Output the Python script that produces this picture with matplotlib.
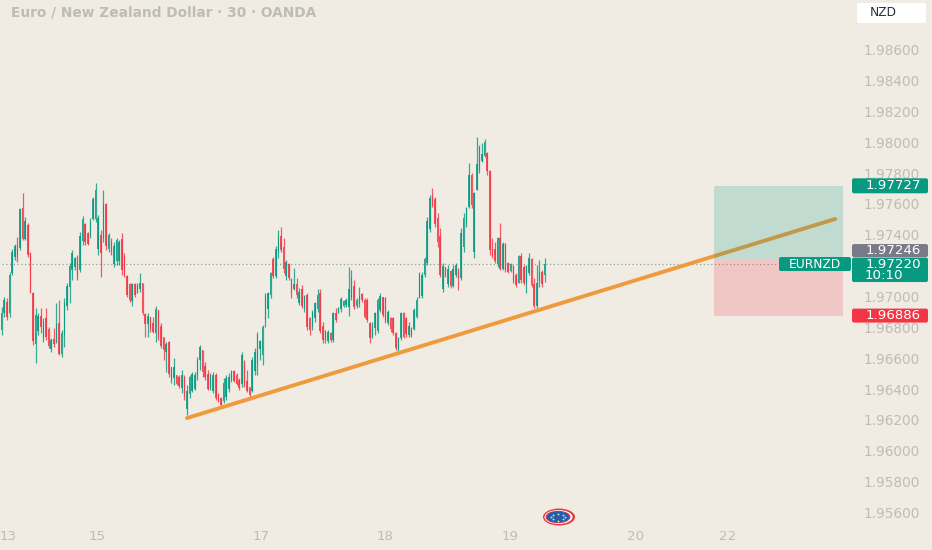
import numpy as np
import matplotlib
matplotlib.use("Agg")
import matplotlib.pyplot as plt
from matplotlib.patches import Ellipse, FancyBboxPatch

# prices are kept as points (0.00001) around 1.97000
base_price = 1.97

opens_pts = [
    -205, -95, -25, -95, 165, 265, 345, 325, 580, 385,
    470, 290, 35, -295, -215, -115, -260, -130, -200, -330,
    -265, -290, -165, -360, -240, -50, 70, 180, 200, 265,
    180, 370, 480, 420, 400, 510, 510, 320, 410, 380,
    610, 320, 370, 220, 240, 240, 385, 270, 145, 90,
    -20, 90, 35, 60, 95, -105, -170, -125, -160, -225,
    -80, -180, -255, -350, -285, -530, -520, -500, -510, -580,
    -510, -720, -620, -600, -590, -500, -400, -340, -440, -490,
    -580, -600, -500, -625, -650, -670, -640, -590, -530, -475,
    -500, -530, -560, -410, -540, -580, -600, -470, -430, -330,
    -370, -140, -70, 20, 250, 140, 300, 400, 330, 140,
    220, 120, 60, 90, -30, 60, -70, 20, -130, -190,
    -130, -70, 30, -180, -270, -280, -225, -270, -95, -95,
    -70, -50, -45, -60, 0, 80, -55, -40, 25, -10,
    -15, -160, -250, -195, -215, -75, 5, 0, -160, -130,
    -130, -225, -330, -260, -100, -130, -240, -195, -200, -120,
    0, 10, 150, 230, 450, 660, 640, 520, 400, 60,
    200, 90, 175, 80, 150, 185, 130, 330, 480, 590,
    800, 300, 700, 830, 890, 920, 940, 820, 320, 320,
    220, 390, 190, 350, 230, 175, 205, 150, 100, 275,
    200, 100, 160, 250, 90, -50, 110, 170, 150,
]
highs_pts = [
    -57, 8, -3, 170, 315, 350, 397, 581, 682, 527,
    483, 300, 41, -67, -100, -67, -132, -67, -186, -262,
    -197, -35, -13, -208, 3, 95, 224, 311, 267, 278,
    429, 531, 483, 429, 516, 656, 747, 537, 440, 699,
    613, 419, 386, 365, 386, 375, 419, 289, 149, 95,
    95, 95, 95, 159, 99, -100, -100, -121, -121, -52,
    -78, -165, -251, -283, -277, -445, -391, -499, -499, -467,
    -499, -564, -499, -478, -478, -381, -305, -337, -413, -467,
    -489, -478, -489, -618, -640, -521, -499, -489, -467, -467,
    -489, -521, -348, -402, -467, -575, -381, -327, -219, -273,
    -175, 30, 41, 170, 263, 336, 440, 463, 387, 247,
    225, 128, 193, 128, 63, 85, 20, 31, -121, -77,
    -23, 57, 57, -153, -207, -207, -218, -88, -67, -56,
    9, -13, -2, 199, 182, 117, -2, 74, 31, -2,
    -2, -153, -153, -88, -2, 31, 9, 9, -77, -121,
    -121, -218, -250, -88, -88, -121, -153, -185, -67, 9,
    171, 171, 268, 527, 668, 711, 657, 549, 452, 225,
    203, 214, 182, 214, 225, 193, 452, 549, 592, 873,
    808, 689, 1041, 992, 1003, 1029, 949, 830, 387, 365,
    398, 484, 365, 355, 236, 225, 214, 160, 279, 290,
    214, 214, 290, 257, 128, 214, 247, 182, 257,
]
lows_pts = [
    -240, -121, -143, -121, 149, 246, 235, 311, 375, 375,
    263, 30, -305, -424, -240, -229, -283, -273, -327, -348,
    -316, -294, -370, -381, -316, -78, -35, 116, 181, 116,
    170, 343, 343, 343, 386, 505, 494, 278, 138, 365,
    311, 300, 278, 203, 213, 213, 149, 138, 8, -24,
    -52, 8, 30, 41, -111, -251, -251, -219, -229, -283,
    -273, -327, -402, -478, -510, -553, -564, -564, -586, -618,
    -661, -759, -651, -607, -597, -532, -467, -510, -532, -597,
    -597, -618, -661, -672, -705, -683, -661, -607, -543, -543,
    -564, -597, -575, -575, -607, -661, -607, -499, -499, -402,
    -435, -186, -132, 1, 127, 127, 257, 301, 160, 117,
    117, -2, 52, -2, -45, -67, -88, -207, -240, -207,
    -153, -88, -229, -293, -293, -293, -283, -283, -153, -99,
    -88, -56, -56, -116, -13, -73, -67, -56, -23, -131,
    -153, -293, -261, -240, -229, -88, -121, -164, -175, -218,
    -240, -337, -341, -272, -261, -250, -255, -255, -207, -131,
    -2, -2, 139, 214, 430, 592, 463, 333, 139, 41,
    139, 74, 63, 74, 139, 52, 117, 301, 463, 581,
    581, 257, 700, 808, 884, 916, 797, 279, 257, 225,
    203, 182, 182, 171, 160, 171, 95, 74, 95, 95,
    85, 31, 149, 74, -67, -67, 74, 74, 106,
]
closes_pts = [
    -95, -15, -120, 150, 300, 340, 265, 575, 385, 500,
    280, 40, -280, -110, -115, -190, -150, -250, -310, -270,
    -300, -170, -360, -230, -30, 80, 210, 290, 260, 130,
    400, 510, 360, 350, 495, 640, 700, 520, 290, 610,
    340, 410, 300, 340, 375, 365, 180, 150, 20, -10,
    90, 20, 85, 100, -100, -170, -115, -200, -220, -70,
    -250, -310, -340, -295, -490, -450, -450, -560, -570, -500,
    -640, -600, -510, -490, -500, -400, -320, -480, -510, -590,
    -500, -500, -650, -670, -695, -550, -520, -510, -475, -535,
    -555, -580, -370, -565, -600, -630, -400, -350, -240, -280,
    -190, 20, 30, 160, 140, 320, 400, 310, 190, 230,
    130, 30, 90, 20, 40, -50, 10, -190, -210, -90,
    -30, 20, -215, -270, -215, -220, -275, -100, -145, -65,
    -5, -20, -10, 60, 130, -60, -15, 10, -15, -120,
    -145, -260, -180, -100, -15, 15, -110, -150, -90, -200,
    -230, -325, -260, -100, -250, -235, -180, -245, -80, -10,
    160, 150, 255, 500, 650, 600, 480, 360, 150, 210,
    145, 190, 75, 190, 215, 130, 420, 520, 580, 800,
    600, 680, 870, 980, 930, 1010, 820, 310, 270, 240,
    390, 190, 350, 180, 170, 220, 110, 85, 270, 115,
    100, 205, 260, 85, -50, 100, 170, 90, 220,
]

day_labels = ["13", "15", "17", "18", "19", "20", "22"]
day_bars = [2.4, 36.5, 99.4, 147, 195, 243, 278]

price_ticks = [1.986, 1.984, 1.982, 1.980, 1.978, 1.976, 1.974, 1.970, 1.968, 1.966, 1.964, 1.962, 1.960, 1.958, 1.956]

entry_price = 1.97246
target_price = 1.97727
stop_price = 1.96886
last_price = 1.97220
trend_bars = [71.0, 319.3]
trend_prices = [1.96222, 1.97512]
zone_bars = [272.9, 322.3]

BG = "#f0ece4"
GREEN = "#089981"
RED = "#f23645"
GREY = "#787b86"
TEXT = "#bdbcb6"

opens = base_price + np.array(opens_pts) * 1e-5
highs = base_price + np.array(highs_pts) * 1e-5
lows = base_price + np.array(lows_pts) * 1e-5
closes = base_price + np.array(closes_pts) * 1e-5
bars = np.arange(len(closes))
up = closes >= opens
colors = np.where(up, GREEN, RED)

fig = plt.figure(figsize=(9.32, 5.5), dpi=100, facecolor=BG)
ax = fig.add_axes([0, 0, 1, 1])
ax.set_facecolor(BG)
ax.set_xlim(-0.64, 356.4)
ymin, ymax = 1.95367, 1.98931
ax.set_ylim(ymin, ymax)
ax.axis("off")

# last price line
ax.plot([bars[0], 297], [last_price, last_price], color="#8fa39a", lw=0.9, ls=(0, (1, 2)), zorder=1)

# candles
ax.vlines(bars, lows, highs, colors=colors, lw=0.9, alpha=0.8, zorder=2)
ax.bar(bars, np.abs(closes - opens), bottom=np.minimum(opens, closes), width=0.6,
       color=colors, linewidth=0, alpha=0.85, zorder=3)

# trend line
ax.plot(trend_bars, trend_prices, color="#f09a3e", lw=2.8, solid_capstyle="round", zorder=4)

# long position box, over the line
ax.fill_between(zone_bars, entry_price, target_price, color=GREEN, alpha=0.2, lw=0, zorder=5)
ax.fill_between(zone_bars, stop_price, entry_price, color=RED, alpha=0.2, lw=0, zorder=5)

# overlay in pixels for the chart chrome
ov = fig.add_axes([0, 0, 1, 1])
ov.set_xlim(0, 932)
ov.set_ylim(550, 0)
ov.axis("off")
ov.patch.set_alpha(0)


def py(price):
    return (ymax - price) / (ymax - ymin) * 550


for p in price_ticks:
    ov.text(892, py(p), "%.5f" % p, color=TEXT, fontsize=9.8, ha="center", va="center", zorder=2)

for bar, lab in zip(day_bars, day_labels):
    ov.text(1.67 + 2.61 * bar, 537, lab, color=TEXT, fontsize=9.6, ha="center", va="center")

ov.text(11, 12, "Euro / New Zealand Dollar · 30 · OANDA", color=TEXT, fontsize=9.95,
        fontweight="bold", ha="left", va="center")


def tag(x0, x1, y0, y1, color):
    ov.add_patch(FancyBboxPatch((x0 + 1.5, y0 + 1.5), x1 - x0 - 3, y1 - y0 - 3,
                                boxstyle="round,pad=1.5,rounding_size=2",
                                fc=color, ec="none", zorder=6))


# NZD button
tag(857, 926, 3, 23, "white")
ov.text(883, 13, "NZD", color="#2a2e39", fontsize=8.8, ha="center", va="center", zorder=7)

y_t = py(target_price)
tag(852, 928, y_t - 7.5, y_t + 7.5, GREEN)
ov.text(893, y_t, "%.5f" % target_price, color="white", fontsize=9.6, ha="center", va="center", zorder=7)

# the grey tag is pushed up above the live price tag, as on the chart
y_l = py(last_price)
tag(852, 928, y_l - 20, y_l - 7, GREY)
ov.text(893, y_l - 13.5, "%.5f" % entry_price, color="white", fontsize=9.6, ha="center", va="center", zorder=7)

tag(852, 928, y_l - 6.5, y_l + 18, GREEN)
ov.text(893, y_l, "%.5f" % last_price, color="white", fontsize=9.6, ha="center", va="center", zorder=7)
ov.text(865, y_l + 11.5, "10:10", color="white", fontsize=9.6, ha="left", va="center", zorder=7)
tag(779, 851, y_l - 7, y_l + 7, GREEN)
ov.text(815, y_l, "EURNZD", color="white", fontsize=8.8, ha="center", va="center", zorder=7)

y_s = py(stop_price)
tag(852, 928, y_s - 7, y_s + 7, RED)
ov.text(893, y_s, "%.5f" % stop_price, color="white", fontsize=9.6, ha="center", va="center", zorder=7)

# flag logo
ov.add_patch(Ellipse((559, 517), 32, 17, fc="#e23a47", ec="none"))
ov.add_patch(Ellipse((558.5, 517), 28, 14, fc="white", ec="none"))
ov.add_patch(Ellipse((558, 517), 25, 12.5, fc="#e23a47", ec="none"))
ov.add_patch(Ellipse((558, 517), 22.5, 11, fc="#1f5fae", ec="none"))
star_angles = np.linspace(0, 2 * np.pi, 8, endpoint=False)
ov.scatter(558 + 7 * np.cos(star_angles), 517 + 3.5 * np.sin(star_angles), s=2, color="#e8d77a", lw=0)

fig.savefig("out.png", dpi=100, facecolor=BG)
